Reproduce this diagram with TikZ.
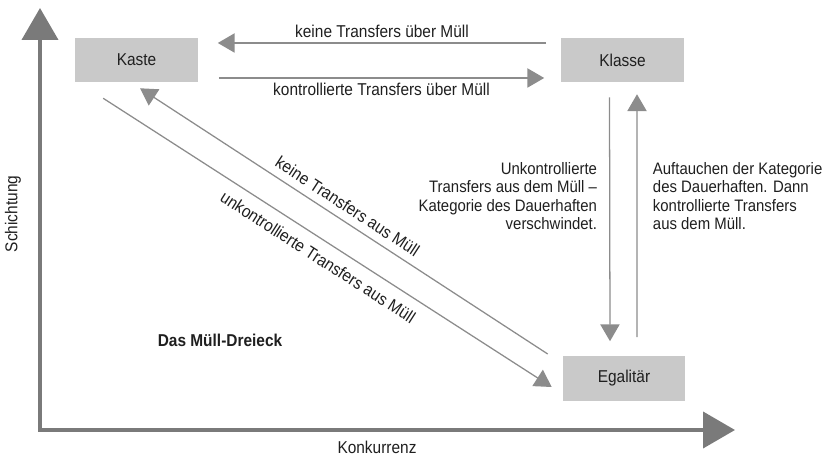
\documentclass[tikz,border=0pt]{standalone}
\usepackage{fontspec}
\setmainfont{Liberation Sans}[FakeStretch=0.9]
\usetikzlibrary{arrows.meta,calc}
\definecolor{boxgray}{gray}{0.79}
\definecolor{arrowgray}{gray}{0.55}
\definecolor{axisgray}{gray}{0.48}
\definecolor{txt}{gray}{0.12}
\begin{document}
\begin{tikzpicture}[
    x=0.025cm,y=0.025cm,
    font=\fontsize{12.2}{13}\selectfont,
    class/.style={rectangle,fill=boxgray,minimum width=3.05cm,minimum height=1.1cm,inner sep=0pt,text=txt},
    note/.style={text=txt},
    block/.style={text=txt,font=\fontsize{11.8}{13}\selectfont},
    transfer/.style={draw=arrowgray,line width=0.9pt,-{Triangle[length=0.42cm,width=0.48cm]}},
    axis/.style={draw=axisgray,line width=0.1cm,line cap=rect,-{Triangle[length=0.8cm,width=0.9cm]}}
]
\useasboundingbox (0,0) rectangle (827,458);
\node[class] (kaste)  at (136.5,398) {Kaste};
\node[class] (klasse) at (622.5,398) {Klasse};
\node[class] (egal)   at (624,79.5)  {Egalitär};

\coordinate (O)    at (40,28);
\coordinate (ytop) at (40,450);
\coordinate (xend) at (735,28);
\draw[axis] (O) -- (ytop);
\draw[axis] (O) -- (xend);
\node[note,rotate=90] (yname) at (13,244) {Schichtung};
\node[note]           (xname) at (377,11) {Konkurrenz};

\draw[transfer] ($(klasse.west)+(-15,17)$) -- node[note,above] {keine Transfers über Müll} ($(kaste.east)+(20,17)$);
\draw[transfer] ($(kaste.east)+(21,-18)$) -- node[note,below] {kontrollierte Transfers über Müll} ($(klasse.west)+(-17,-18)$);

\draw[transfer] ($(klasse.south)+(-13,-15)$) -- ($(egal.north)+(-14,15)$);
\draw[transfer] ($(egal.north)+(13,19)$) -- ($(klasse.south)+(14.5,-12)$);
\node[block,anchor=east,align=right] (lost) at (602,262) {Unkontrollierte\\Transfers aus dem Müll –\\Kategorie des Dauerhaften\\verschwindet.};
\node[block,anchor=west,align=left]  (rise) at (648,262) {Auftauchen der Kategorie\\des Dauerhaften. Dann\\kontrollierte Transfers\\aus dem Müll.};

\draw[transfer] ($(egal.west)+(-15,24.5)$) -- node[note,sloped,above=2pt,pos=0.51] {keine Transfers aus Müll} ($(kaste.south)+(3.5,-6)$);
\draw[transfer] ($(kaste.south west)+(28,-16)$) -- node[note,sloped,below=4pt] {unkontrollierte Transfers aus Müll} ($(egal.west)+(-11,-8.5)$);

\node[note,font=\fontsize{12.2}{13}\selectfont\bfseries] (title) at (220,118) {Das Müll-Dreieck};
\end{tikzpicture}
\end{document}
